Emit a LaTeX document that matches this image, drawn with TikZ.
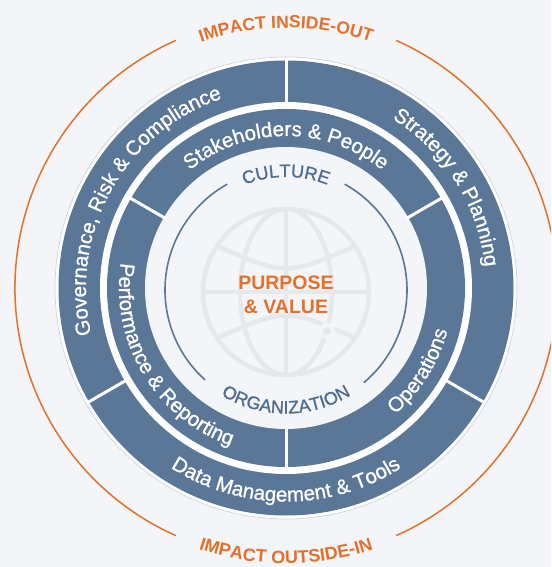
\documentclass[tikz,border=0pt]{standalone}
\usepackage{fontspec}
\setmainfont{Liberation Sans}
\newfontfamily\ringfont[FakeBold=1]{Liberation Sans}
\usetikzlibrary{decorations.text}
\definecolor{bgc}{HTML}{F3F5F8}
\definecolor{ringblue}{HTML}{5A7797}
\definecolor{orng}{HTML}{E4702A}
\definecolor{cultblue}{HTML}{4F6D8E}
\definecolor{globegray}{HTML}{E5E9EC}
\definecolor{rimgray}{HTML}{CBD1D8}
\tikzset{
  ringtext/.style={decorate, decoration={text along path, text align=center, text color=white,
      text={|\ringfont\fontsize{20.5}{24}\selectfont|#1}}},
  culttext/.style={decorate, decoration={text along path, text align=center, text color=cultblue,
      text={|\ringfont\fontsize{18}{20}\selectfont|#1}}},
  orangetext/.style 2 args={decorate, decoration={text along path, text align=center, text color=orng,
      text={|\bfseries\fontsize{#1}{#1}\selectfont|#2}}},
  divider/.style={white, line width=3pt},
  globeline/.style={globegray, line width=4.5pt},
  purp/.style={font=\bfseries\fontsize{19.5}{23}\selectfont, text=orng, inner sep=0pt, anchor=base},
  orangearc/.style={orng, line width=1.5pt},
  cultarc/.style={ringblue, line width=1.6pt}
}
\begin{document}
\begin{tikzpicture}[x=1pt,y=1pt]
\useasboundingbox (-286,-279) rectangle (265,288);
\clip (-286,-279) rectangle (265,288);
\fill[bgc] (-286,-279) rectangle (265,288);
% orange outer arcs and labels
\draw[orangearc] (114:271) arc[start angle=114, end angle=246, radius=271];
\draw[orangearc] (-66:271) arc[start angle=-66, end angle=66, radius=271];
\path[orangetext={17.5}{IMPACT INSIDE-OUT}] (150:260) arc[start angle=150, end angle=30, radius=260];
\path[orangetext={18}{IMPACT OUTSIDE-IN}] (210:275.5) arc[start angle=210, end angle=330, radius=275.5];
% rings
\filldraw[fill=white, draw=rimgray, line width=0.6pt] (0,0) circle (231);
\fill[ringblue] (0,0) circle (227.5);
\fill[white] (0,0) circle (186);
\fill[ringblue] (0,0) circle (179);
\fill[bgc] (0,0) circle (141);
\foreach \a in {90,210,330} \draw[divider] (\a:184) -- (\a:229);
\foreach \a in {30,150,270} \draw[divider] (\a:139) -- (\a:181);
% globe
\begin{scope}[shift={(0,-4)}]
\draw[globeline] (0,0) circle (83);
\draw[globeline] (0,0) ellipse [x radius=46, y radius=83];
\draw[globeline] (-83,0) -- (83,0);
\draw[globeline] (0,-83) -- (0,83);
\draw[globeline] (-69,46) .. controls (0,16) .. (69,46);
\draw[globeline] (-69,-46) .. controls (0,-16) .. (69,-46);
\fill[bgc] (41,-39) circle (8);
\fill[globegray] (41,-39) circle (4.2);
\end{scope}
% culture / organization arcs and labels
\begin{scope}[shift={(0,-2)}]
\draw[cultarc] (119:121) arc[start angle=119, end angle=228, radius=121];
\draw[cultarc] (310:121) arc[start angle=310, end angle=421, radius=121];
\path[culttext={CULTURE}] (150:113) arc[start angle=150, end angle=30, radius=113];
\path[culttext={ORGANIZATION}] (210:123.5) arc[start angle=210, end angle=330, radius=123.5];
\end{scope}
% ring labels
\path[ringtext={Stakeholders {\&} People}] (150:152) arc[start angle=150, end angle=30, radius=152];
\path[ringtext={Performance {\&} Reporting}] (151:167) arc[start angle=151, end angle=271, radius=167];
\path[ringtext={Operations}] (268:167) arc[start angle=268, end angle=388, radius=167];
\path[ringtext={Governance, Risk {\&} Compliance}] (211:200) arc[start angle=211, end angle=91, radius=200];
\path[ringtext={Strategy {\&} Planning}] (92:200) arc[start angle=92, end angle=-28, radius=200];
\path[ringtext={Data Management {\&} Tools}] (210:213.5) arc[start angle=210, end angle=330, radius=213.5];
% centre text
\node[purp] (purpose) at (0,-2) {PURPOSE};
\node[purp] (value) at (0,-25.3) {\& VALUE};
\end{tikzpicture}
\end{document}
